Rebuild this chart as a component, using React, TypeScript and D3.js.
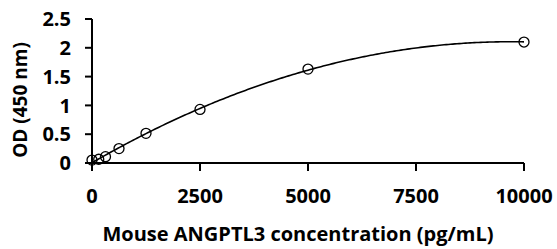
import React from "react";
import * as d3 from "d3";

// standard curve
const concentrations = [0, 156, 312, 625, 1250, 2500, 5000, 10000];
const odValues = [0.05, 0.065, 0.11, 0.25, 0.515, 0.93, 1.63, 2.1];

const xTicks = [0, 2500, 5000, 7500, 10000];
const yTicks = [0, 0.5, 1, 1.5, 2, 2.5];

const xTitle = "Mouse ANGPTL3 concentration (pg/mL)";
const yTitle = "OD (450 nm)";

// least squares polynomial (trendline like the spreadsheet one)
function polyFit(xs: number[], ys: number[], order: number) {
  const n = order + 1;
  const A: number[][] = [];
  for (let i = 0; i < n; i++) {
    A.push(new Array(n + 1).fill(0));
  }
  for (let k = 0; k < xs.length; k++) {
    for (let i = 0; i < n; i++) {
      for (let j = 0; j < n; j++) A[i][j] += Math.pow(xs[k], i + j);
      A[i][n] += ys[k] * Math.pow(xs[k], i);
    }
  }
  for (let c = 0; c < n; c++) {
    let p = c;
    for (let r = c + 1; r < n; r++) if (Math.abs(A[r][c]) > Math.abs(A[p][c])) p = r;
    [A[c], A[p]] = [A[p], A[c]];
    for (let r = 0; r < n; r++) {
      if (r === c) continue;
      const f = A[r][c] / A[c][c];
      for (let j = c; j <= n; j++) A[r][j] -= f * A[c][j];
    }
  }
  const coef = A.map((row, i) => row[n] / row[i]);
  return (x: number) => coef.reduce((s, a, i) => s + a * Math.pow(x, i), 0);
}

export default function App() {
  const width = 557;
  const height = 249;

  const xScale = d3.scaleLinear().domain([0, 10000]).range([92, 524]);
  const yScale = d3.scaleLinear().domain([0, 2.5]).range([163, 19]);

  // 2nd order trendline, fitted in thousands
  const fit = polyFit(concentrations.map((c) => c / 1000), odValues, 2);
  const samples = d3.range(0, 10000.1, 50).map((c) => ({ x: c, y: fit(c / 1000) }));

  const line = d3
    .line<{ x: number; y: number }>()
    .x((d) => xScale(d.x))
    .y((d) => yScale(d.y))
    .curve(d3.curveLinear);

  const font = "'Open Sans', sans-serif";

  return (
    <svg width={width} height={height} style={{ position: "absolute", left: 0, top: 0, background: "#fff" }}>
      <rect width={width} height={height} fill="#fff" />

      {/* axes */}
      <line x1={xScale(0)} x2={xScale(0)} y1={yScale(2.5)} y2={yScale(0)} stroke="#000" strokeWidth={2} />
      <line x1={xScale(0)} x2={xScale(10000)} y1={yScale(0)} y2={yScale(0)} stroke="#000" strokeWidth={2} />

      {yTicks.map((t) => (
        <g key={"y" + t}>
          <line x1={xScale(0) - 7} x2={xScale(0)} y1={yScale(t)} y2={yScale(t)} stroke="#000" strokeWidth={2} />
          <text x={71} y={yScale(t)} dy="0.36em" textAnchor="end" fontFamily={font} fontWeight="bold" fontSize={20}>
            {t}
          </text>
        </g>
      ))}

      {xTicks.map((t) => (
        <g key={"x" + t}>
          <line x1={xScale(t)} x2={xScale(t)} y1={yScale(0)} y2={yScale(0) + 8} stroke="#000" strokeWidth={2} />
          <text x={xScale(t)} y={203} textAnchor="middle" fontFamily={font} fontWeight="bold" fontSize={20}>
            {t}
          </text>
        </g>
      ))}

      <path d={line(samples) || ""} fill="none" stroke="#000" strokeWidth={1.6} />

      {concentrations.map((c, i) => (
        <circle key={c} cx={xScale(c)} cy={yScale(odValues[i])} r={5} fill="none" stroke="#000" strokeWidth={1.3} />
      ))}

      <text x={20} y={100} transform="rotate(-90 20 100)" dy="0.35em" textAnchor="middle" fontFamily={font} fontWeight="bold" fontSize={19}>
        {yTitle}
      </text>
      <text x={298} y={241} textAnchor="middle" fontFamily={font} fontWeight="bold" fontSize={20}>
        {xTitle}
      </text>
    </svg>
  );
}
